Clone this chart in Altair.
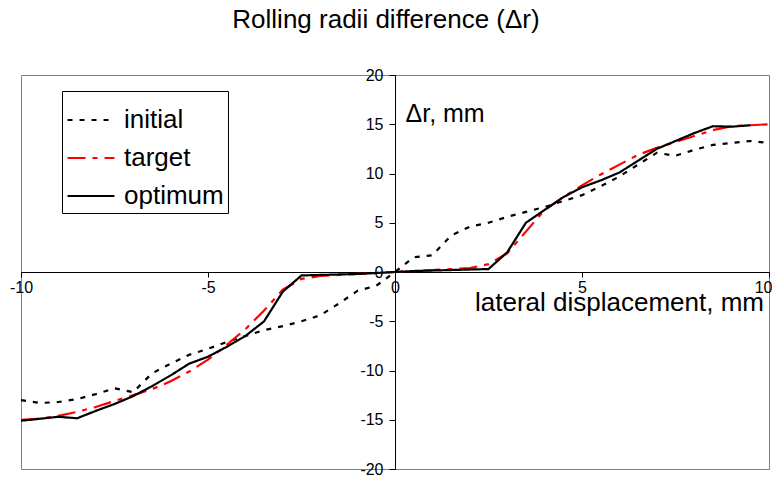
import altair as alt
import pandas as pd

FONT = "Liberation Sans"

x_vals = [-10, -9.5, -9, -8.5, -8, -7.5, -7, -6.5, -6, -5.5, -5, -4.5, -4, -3.5, -3, -2.5, -2, -1.5, -1, -0.5,
          0, 0.5, 1, 1.5, 2, 2.5, 3, 3.5, 4, 4.5, 5, 5.5, 6, 6.5, 7, 7.5, 8, 8.5, 9, 9.5, 10]

initial = [-13.0, -13.3, -13.2, -12.9, -12.4, -11.8, -12.2, -10.3, -9.3, -8.4, -7.8, -7.1, -6.5, -5.9, -5.5, -5.0,
           -4.4, -3.2, -1.9, -1.4, 0.0, 1.5, 1.7, 3.7, 4.6, 5.0, 5.6, 6.1, 6.6, 7.2, 7.8, 8.7, 9.7, 10.9, 12.1,
           11.8, 12.4, 12.9, 13.1, 13.3, 13.1]

target = [-15.0, -14.9, -14.6, -14.2, -13.7, -13.1, -12.5, -11.9, -11.1, -10.1, -8.9, -7.4, -5.8, -3.9, -1.8, -0.7,
          -0.4, -0.3, -0.2, -0.1, 0.0, 0.1, 0.2, 0.3, 0.4, 0.8, 1.9, 4.1, 6.3, 7.6, 8.8, 9.9, 10.9, 11.9, 12.6,
          13.2, 13.8, 14.4, 14.8, 14.9, 15.0]

optimum = [-15.1, -14.9, -14.7, -14.85, -14.1, -13.4, -12.6, -11.6, -10.5, -9.3, -8.6, -7.6, -6.5, -5.0, -2.0, -0.35,
           -0.3, -0.25, -0.2, -0.1, 0.0, 0.1, 0.15, 0.2, 0.25, 0.3, 2.0, 5.0, 6.3, 7.6, 8.6, 9.3, 10.1, 11.3, 12.5,
           13.3, 14.1, 14.8, 14.75, 14.9]

x_ticks = [-10, -5, 0, 5, 10]
y_ticks = [-20, -15, -10, -5, 0, 5, 10, 15, 20]

series_names = ["initial", "target", "optimum"]
series_colors = ["black", "red", "black"]
series_dashes = [[5, 7], [18, 7, 5, 7], [1, 0]]
series_widths = [2.2, 2.2, 1.6]

rows = []
for name, vals in zip(series_names, [initial, target, optimum]):
    for i, v in enumerate(vals):
        rows.append({"x": x_vals[i], "y": v, "series": name, "order": i})
df = pd.DataFrame(rows)

W, H = 748, 394

chart = alt.Chart(df).mark_line(clip=False).encode(
    x=alt.X("x:Q",
            scale=alt.Scale(domain=[-10, 10], nice=False, zero=False),
            axis=alt.Axis(values=x_ticks, offset=-H / 2, grid=False, labelExpr="'' + datum.value",
                          title="lateral displacement, mm", titleX=598, titleY=30,
                          titleAlign="center", titleBaseline="middle", titleAnchor="start",
                          titleFontSize=26, titleFontWeight="normal", titleFont=FONT, titleColor="black",
                          labelFontSize=16, labelFont=FONT, labelColor="black", labelPadding=2,
                          labelAlign={"condition": {"test": "datum.value == 10", "value": "right"},
                                      "value": "center"},
                          labelOffset={"condition": {"test": "datum.value == 10", "value": 3},
                                       "value": 0},
                          labelFlush=False, tickSize=5, tickColor="black", domainColor="black")),
    y=alt.Y("y:Q",
            scale=alt.Scale(domain=[-20, 20], nice=False, zero=False),
            axis=alt.Axis(values=y_ticks, offset=-W / 2, grid=False, labelExpr="'' + datum.value",
                          title="\u0394r, mm", titleX=10, titleY=38, titleAngle=0,
                          titleAlign="left", titleBaseline="middle", titleAnchor="start",
                          titleFontSize=25, titleFontWeight="normal", titleFont=FONT, titleColor="black",
                          labelFontSize=16, labelFont=FONT, labelColor="black", labelPadding=6,
                          labelFlush=False, tickSize=6, tickColor="black", domainColor="black")),
    color=alt.Color("series:N", scale=alt.Scale(domain=series_names, range=series_colors), title=None),
    strokeDash=alt.StrokeDash("series:N", scale=alt.Scale(domain=series_names, range=series_dashes), title=None),
    strokeWidth=alt.StrokeWidth("series:N", scale=alt.Scale(domain=series_names, range=series_widths), title=None),
    order="order:Q",
).properties(
    width=W, height=H,
    title=alt.TitleParams("Rolling radii difference (\u0394r)", fontSize=26, fontWeight="normal",
                          font=FONT, color="black", anchor="middle", offset=34, dx=-9),
    padding={"left": 13, "top": 67, "right": 3, "bottom": 8},
    autosize=alt.AutoSizeParams(type="none"),
).configure_view(
    stroke="#808080", strokeWidth=1
).configure_legend(
    orient="none", legendX=41, legendY=16, fillColor="white", strokeColor="black",
    padding=4, symbolType="stroke", symbolSize=2200, symbolStrokeWidth=2.5,
    labelFontSize=26, labelFont=FONT, labelColor="black", rowPadding=0, labelOffset=8,
    cornerRadius=0, symbolStrokeColor="black"
)

chart.save("out.html", embed_options={"renderer": "svg", "actions": False})
